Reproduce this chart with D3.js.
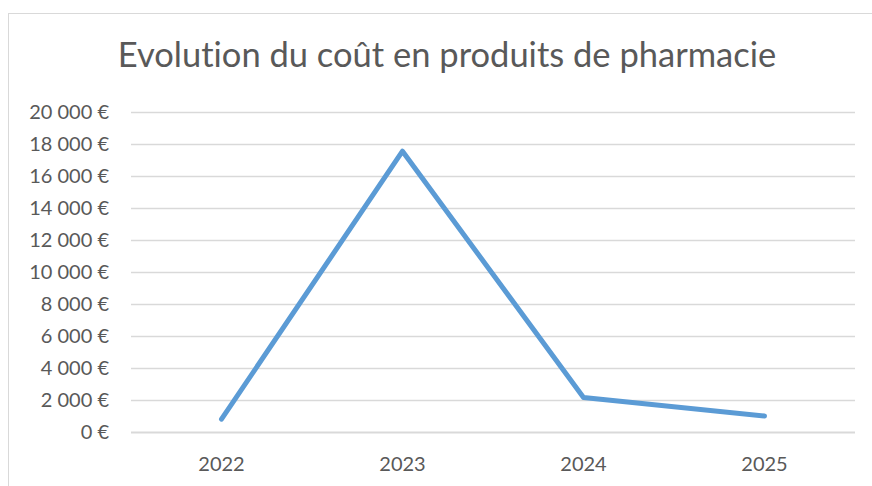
<!DOCTYPE html>
<html>
<head>
<meta charset="utf-8">
<script src="https://cdn.jsdelivr.net/npm/d3@7"></script>
<style>
  body { margin: 0; background: #fff; }
  text { font-family: Lato, "Open Sans", sans-serif; fill: #595959; font-variant-ligatures: none; }
</style>
</head>
<body>
<div id="chart"></div>
<script>
// data
const years = ["2022", "2023", "2024", "2025"];
const costs = [800, 17550, 2150, 1000];
const yTicks = [0, 2000, 4000, 6000, 8000, 10000, 12000, 14000, 16000, 18000, 20000];

const width = 872;
const height = 486;
const margin = {top: 112, right: 17, bottom: 54, left: 131};

const svg = d3.select("#chart")
  .append("svg")
    .attr("width", width)
    .attr("height", height);

// chart area border (cropped on the right and bottom)
svg.append("rect")
  .attr("x", 8.5)
  .attr("y", 13.5)
  .attr("width", 900)
  .attr("height", 600)
  .attr("fill", "none")
  .attr("stroke", "#d9d9d9")
  .attr("stroke-width", 1);

const x = d3.scaleBand()
  .domain(years)
  .range([margin.left, width - margin.right]);

const y = d3.scaleLinear()
  .domain([0, 20000])
  .range([height - margin.bottom, margin.top]);

const fmt = v => d3.format(",")(v).replace(/,/g, "\u00a0") + "\u00a0€";

// gridlines
svg.append("g")
  .selectAll("line")
  .data(yTicks)
  .join("line")
    .attr("x1", margin.left)
    .attr("x2", width - margin.right)
    .attr("y1", d => Math.round(y(d)) + 0.5)
    .attr("y2", d => Math.round(y(d)) + 0.5)
    .attr("stroke", "#d9d9d9")
    .attr("stroke-width", d => d === 0 ? 2 : 1.5);

// y labels
svg.append("g")
  .selectAll("text")
  .data(yTicks)
  .join("text")
    .attr("x", 109)
    .attr("y", d => y(d))
    .attr("dy", "0.36em")
    .attr("text-anchor", "end")
    .style("font-size", "20px")
    .text(fmt);

// x labels
svg.append("g")
  .selectAll("text")
  .data(years)
  .join("text")
    .attr("x", d => x(d) + x.bandwidth() / 2)
    .attr("y", 471)
    .attr("text-anchor", "middle")
    .style("font-size", "20px")
    .text(d => d);

// the line
const line = d3.line()
  .x((d, i) => x(years[i]) + x.bandwidth() / 2)
  .y(d => y(d));

svg.append("path")
  .datum(costs)
  .attr("d", line)
  .attr("fill", "none")
  .attr("stroke", "#5b9bd5")
  .attr("stroke-width", 5)
  .attr("stroke-linecap", "round")
  .attr("stroke-linejoin", "round");

// title
svg.append("text")
  .attr("x", 447)
  .attr("y", 67)
  .attr("text-anchor", "middle")
  .style("font-size", "34.5px")
  .text("Evolution du coût en produits de pharmacie");
</script>
</body>
</html>
